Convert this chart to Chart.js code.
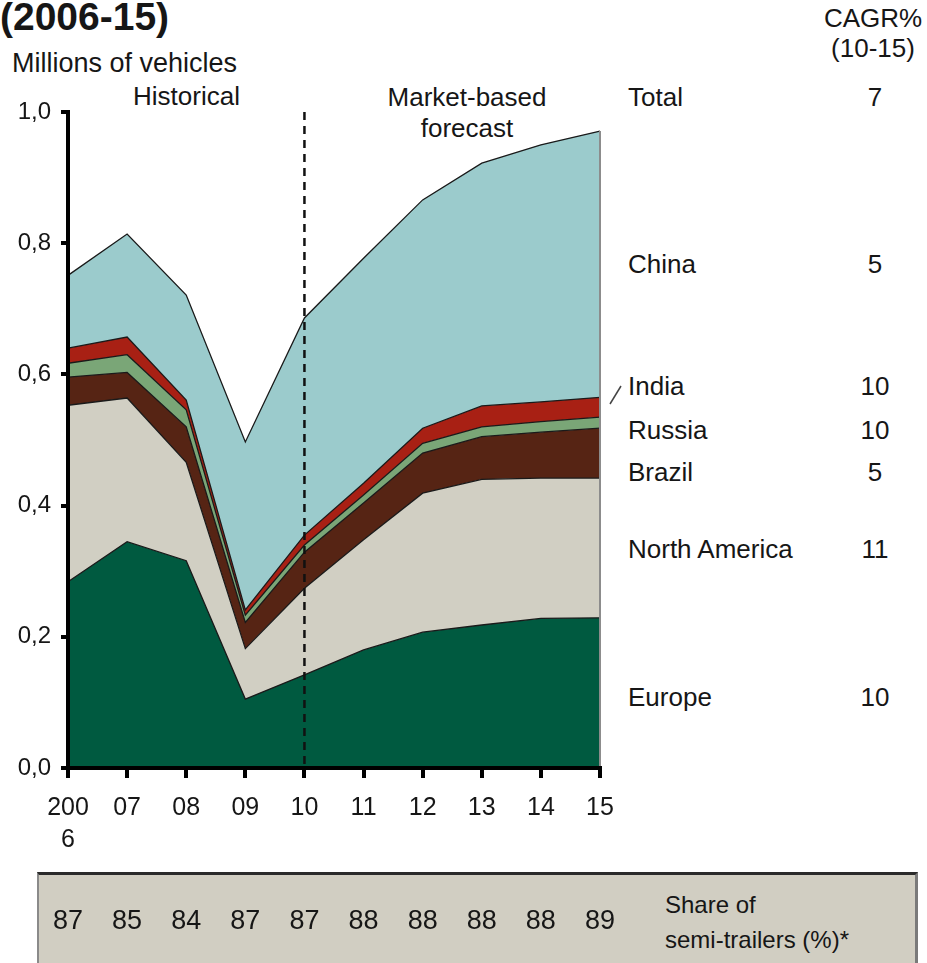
<!DOCTYPE html>
<html>
<head>
<meta charset="utf-8">
<script src="https://cdn.jsdelivr.net/npm/chart.js@4.4.1/dist/chart.umd.min.js"></script>
<style>
body { margin:0; background:#fff; width:927px; height:963px; overflow:hidden; position:relative;
       font-family:"Liberation Sans", Arial, sans-serif; color:#161616; }
.t { position:absolute; white-space:nowrap; font-size:26px; line-height:30px; }
.c { transform:translateX(-50%); }
#box { position:absolute; left:37px; top:872px; width:881px; height:100px; background:#d1cec2;
       border-top:3px solid #2a2a2a; border-left:2px solid #8a8a8a; border-right:3px solid #7a7a7a; box-sizing:border-box; }
.share { position:absolute; top:905px; font-size:27px; line-height:30px; transform:translateX(-50%); }
canvas { position:absolute; left:0; top:0; }
</style>
</head>
<body>
<div id="box"></div>
<div class="t" style="left:0;top:-4px;font-size:39px;line-height:42px;font-weight:bold;">(2006-15)</div>
<div class="t" style="left:12px;top:48px;font-size:27px;">Millions of vehicles</div>
<div class="t" style="left:133px;top:81px;">Historical</div>
<div class="t c" style="left:467px;top:82px;">Market-based</div>
<div class="t c" style="left:467px;top:113px;">forecast</div>
<div class="t c" style="left:873px;top:3px;">CAGR%</div>
<div class="t c" style="left:873px;top:33px;">(10-15)</div>
<div id="right"></div>
<div class="t" style="left:665px;top:890px;font-size:24px;">Share of</div>
<div class="t" style="left:665px;top:925px;font-size:24px;">semi-trailers (%)*</div>
<canvas id="c" width="927" height="963"></canvas>
<script>
const tickLabels = [['200', '6'], '07', '08', '09', '10', '11', '12', '13', '14', '15'];

const europe       = [0.284, 0.345, 0.316, 0.105, 0.142, 0.180, 0.207, 0.218, 0.228, 0.229];
const northAmerica = [0.269, 0.219, 0.150, 0.077, 0.132, 0.168, 0.212, 0.222, 0.214, 0.213];
const brazil       = [0.043, 0.039, 0.054, 0.040, 0.055, 0.056, 0.061, 0.065, 0.070, 0.076];
const russia       = [0.021, 0.027, 0.026, 0.011, 0.011, 0.012, 0.015, 0.015, 0.016, 0.017];
const india        = [0.023, 0.027, 0.015, 0.008, 0.015, 0.018, 0.023, 0.032, 0.030, 0.030];
const china        = [0.111, 0.157, 0.160, 0.256, 0.331, 0.343, 0.348, 0.370, 0.392, 0.406];

const shareSemiTrailers = [87, 85, 84, 87, 87, 88, 88, 88, 88, 89];

const regions = ['Total', 'China', 'India', 'Russia', 'Brazil', 'North America', 'Europe'];
const cagr    = [7, 5, 10, 10, 5, 11, 10];
const regionY = [97, 264, 386, 430, 472, 549, 697];

const FONT = '"Liberation Sans", Arial, sans-serif';

// right-hand labels and CAGR column
const right = document.getElementById('right');
regions.forEach((name, i) => {
    right.insertAdjacentHTML('beforeend',
        `<div class="t" style="left:628px;top:${regionY[i] - 15}px;">${name}</div>` +
        `<div class="t c" style="left:875px;top:${regionY[i] - 15}px;">${cagr[i]}</div>`);
});

const area = (label, data, color, fill) => ({
    label, data, fill,
    backgroundColor: color,
    borderColor: '#1a1a1a',
    borderWidth: 1.3,
    pointRadius: 0,
    tension: 0
});

const overlay = {
    id: 'overlay',
    afterDatasetsDraw(chart) {
        const {ctx, chartArea, scales: {x, y}} = chart;
        const last = tickLabels.length - 1;
        const total = europe[last] + northAmerica[last] + brazil[last] + russia[last] + india[last] + china[last];
        ctx.save();
        // light edge on the right side of the stack
        ctx.strokeStyle = '#8c8c8c';
        ctx.lineWidth = 2;
        ctx.beginPath();
        ctx.moveTo(x.getPixelForValue(last), y.getPixelForValue(total));
        ctx.lineTo(x.getPixelForValue(last), chartArea.bottom);
        ctx.stroke();
        // historical / forecast divider at 2010
        ctx.strokeStyle = '#111';
        ctx.lineWidth = 2.5;
        ctx.setLineDash([8, 6]);
        ctx.beginPath();
        ctx.moveTo(x.getPixelForValue(4), chartArea.top);
        ctx.lineTo(x.getPixelForValue(4), chartArea.bottom);
        ctx.stroke();
        ctx.setLineDash([]);
        // pointer to India label
        ctx.strokeStyle = '#444';
        ctx.lineWidth = 1.5;
        ctx.beginPath();
        ctx.moveTo(610, 404);
        ctx.lineTo(621, 386);
        ctx.stroke();
        ctx.restore();
    }
};

const chart = new Chart(document.getElementById('c'), {
    type: 'line',
    data: {
        labels: tickLabels,
        datasets: [
            area('Europe', europe, '#005a40', 'origin'),
            area('North America', northAmerica, '#d1cfc3', '-1'),
            area('Brazil', brazil, '#562414', '-1'),
            area('Russia', russia, '#7aa677', '-1'),
            area('India', india, '#a82014', '-1'),
            area('China', china, '#9bcbcc', '-1')
        ]
    },
    options: {
        responsive: false,
        animation: false,
        layout: {padding: {top: 112, right: 327, bottom: 95, left: 0}},
        plugins: {legend: {display: false}, tooltip: {enabled: false}},
        scales: {
            x: {
                offset: false,
                afterFit: s => { s.height = 100; },
                grid: {display: true, drawOnChartArea: false, drawTicks: true, tickLength: 10, color: '#000', lineWidth: 4, z: 1},
                border: {display: true, color: '#000', width: 4, z: 1},
                ticks: {autoSkip: false, maxRotation: 0, color: '#161616', padding: 14,
                        font: {family: FONT, size: 25, lineHeight: 1.28}}
            },
            y: {
                stacked: true,
                min: 0,
                max: 1,
                afterFit: s => { s.width = 68; },
                grid: {display: true, drawOnChartArea: false, drawTicks: true, tickLength: 7, color: '#000', lineWidth: 4, z: 1},
                border: {display: true, color: '#000', width: 4, z: 1},
                ticks: {stepSize: 0.2, color: '#161616', padding: 10,
                        font: {family: FONT, size: 24},
                        callback: v => v.toFixed(1).replace('.', ',')}
            }
        }
    },
    plugins: [overlay]
});

// share of semi-trailers row, aligned with the year ticks
shareSemiTrailers.forEach((v, i) => {
    const d = document.createElement('div');
    d.className = 'share';
    d.style.left = chart.scales.x.getPixelForValue(i) + 'px';
    d.textContent = v;
    document.body.appendChild(d);
});
</script>
</body>
</html>
